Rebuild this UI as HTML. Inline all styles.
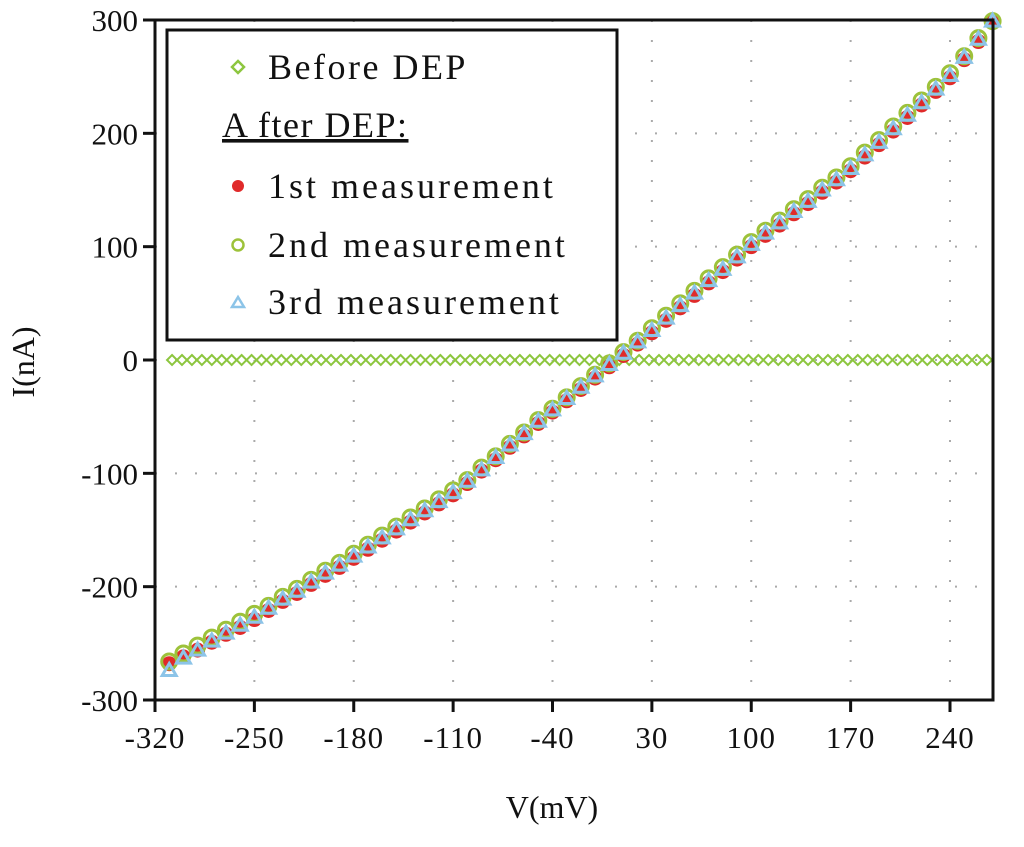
<!DOCTYPE html>
<html><head><meta charset="utf-8"><style>
body{margin:0;background:#fff;width:1024px;height:842px;overflow:hidden}
svg text{font-family:"Liberation Serif",serif;fill:#111}
</style></head><body>
<svg id="chart" width="1024" height="842" viewBox="0 0 1024 842" xmlns="http://www.w3.org/2000/svg">
<g id="grid"></g>
<g id="series"></g>
<rect x="155" y="20" width="838" height="680" fill="none" stroke="#111" stroke-width="3"/>
<g id="ticks"></g>
<text x="552" y="818" font-size="32" text-anchor="middle">V(mV)</text>
<text x="0" y="0" font-size="32" text-anchor="middle" transform="translate(34,362) rotate(-90)">I(nA)</text>
<g>
<rect x="167" y="30" width="450" height="310" fill="#fff" stroke="#111" stroke-width="3"/>
<g><path d="M238 61 l6 6 -6 6 -6 -6z" fill="none" stroke="#8dc63f" stroke-width="2.5"/><text x="268" y="79" font-size="36" letter-spacing="2.5">Before DEP</text></g>
<text x="222" y="137" font-size="36" letter-spacing="1.5" text-decoration="underline">A fter DEP:</text>
<g><circle cx="238" cy="186" r="6" fill="#e02a2a"/><text x="268" y="198" font-size="36" letter-spacing="3">1st measurement</text></g>
<g><circle cx="238" cy="245" r="5.5" fill="none" stroke="#9dc23a" stroke-width="2.5"/><text x="268" y="257" font-size="36" letter-spacing="3">2nd measurement</text></g>
<g><path d="M238 297 l6 10 h-12z" fill="none" stroke="#8cc4e8" stroke-width="2.5"/><text x="268" y="314" font-size="36" letter-spacing="3">3rd measurement</text></g>
</g>
</svg>
<script>
const xTicks=[-320,-250,-180,-110,-40,30,100,170,240];
const yTicks=[-300,-200,-100,0,100,200,300];
const volts=[-310,-300,-290,-280,-270,-260,-250,-240,-230,-220,-210,-200,-190,-180,-170,-160,-150,-140,-130,-120,-110,-100,-90,-80,-70,-60,-50,-40,-30,-20,-10,0,10,20,30,40,50,60,70,80,90,100,110,120,130,140,150,160,170,180,190,200,210,220,230,240,250,260,270];
const meas1=[-268,-262,-256,-249,-242,-236,-229,-221,-213,-206,-198,-190,-183,-175,-167,-159,-151,-143,-135,-127,-119,-109,-98,-88,-77,-67,-56,-46,-36,-26,-16,-6,4,14,24,35,46,57,68,78,89,100,110,119,129,138,148,157,167,179,190,202,214,225,237,249,265,281,298];
const meas2=[-266,-259,-252,-245,-238,-231,-224,-217,-209,-202,-194,-186,-179,-171,-163,-155,-147,-139,-131,-123,-115,-106,-95,-85,-74,-64,-53,-43,-33,-23,-13,-3,7,17,28,39,50,61,72,82,93,104,114,123,133,142,152,161,171,183,194,206,218,229,241,253,268,284,299];
const meas3=[-274,-263,-256,-248,-241,-234,-227,-219,-211,-204,-196,-188,-181,-173,-165,-157,-149,-141,-133,-125,-117,-107,-97,-86,-75,-65,-54,-44,-34,-24,-14,-4,6,16,26,37,48,59,70,80,91,102,112,121,131,140,150,159,169,181,192,204,216,227,239,251,267,283,299];
const beforeV=[];for(let v=-308;v<=271;v+=7)beforeV.push(v);
const beforeI=beforeV.map(()=>0);
const NS="http://www.w3.org/2000/svg";
const X=v=>155+(v+320)*(795/560);
const Y=i=>20+(300-i)*(680/600);
function mk(tag,attrs,parent){const e=document.createElementNS(NS,tag);for(const k in attrs)e.setAttribute(k,attrs[k]);document.getElementById(parent).appendChild(e);return e;}
xTicks.forEach(t=>{
 const x=X(t);
 if(t>-320){const g=mk('line',{x1:x,y1:20,x2:x,y2:700,stroke:'#aaa','stroke-width':2,'stroke-dasharray':'2 18'},'grid');
 
 }
 const tk=mk('line',{x1:x,y1:700,x2:x,y2:712,stroke:'#111','stroke-width':3},'ticks');
 
 
 const lb=mk('text',{x:x,y:748,'font-size':31,'text-anchor':'middle','letter-spacing':1},'ticks');lb.textContent=t;
 
 
});
yTicks.forEach(t=>{
 const y=Y(t);
 if(t>-300&&t<300){const g=mk('line',{x1:155,y1:y,x2:993,y2:y,stroke:'#aaa','stroke-width':2,'stroke-dasharray':'2 18'},'grid');
 
 }
 const tk=mk('line',{x1:143,y1:y,x2:155,y2:y,stroke:'#111','stroke-width':3},'ticks');
 
 
 const lb=mk('text',{x:138,y:y+11,'font-size':31,'text-anchor':'end'},'ticks');lb.textContent=t;
 
 
});
beforeV.forEach((v,k)=>{const x=X(v),y=Y(beforeI[k]);
 const p=mk('path',{d:`M${x} ${y-5} l5 5 -5 5 -5 -5z`,fill:'none',stroke:'#8dc63f','stroke-width':2},'series');
 
 });
volts.forEach((v,k)=>{const c=mk('circle',{cx:X(v),cy:Y(meas1[k]),r:7.5,fill:'#e02a2a'},'series');
 
 });
volts.forEach((v,k)=>{const c=mk('circle',{cx:X(v),cy:Y(meas2[k]),r:7.5,fill:'none',stroke:'#9dc23a','stroke-width':3},'series');
 
 });
volts.forEach((v,k)=>{const x=X(v),y=Y(meas3[k]);
 const p=mk('path',{d:`M${x} ${y-7} l7 12 h-14z`,fill:'none',stroke:'#8cc4e8','stroke-width':3},'series');
 
 });
</script>
</body></html>
